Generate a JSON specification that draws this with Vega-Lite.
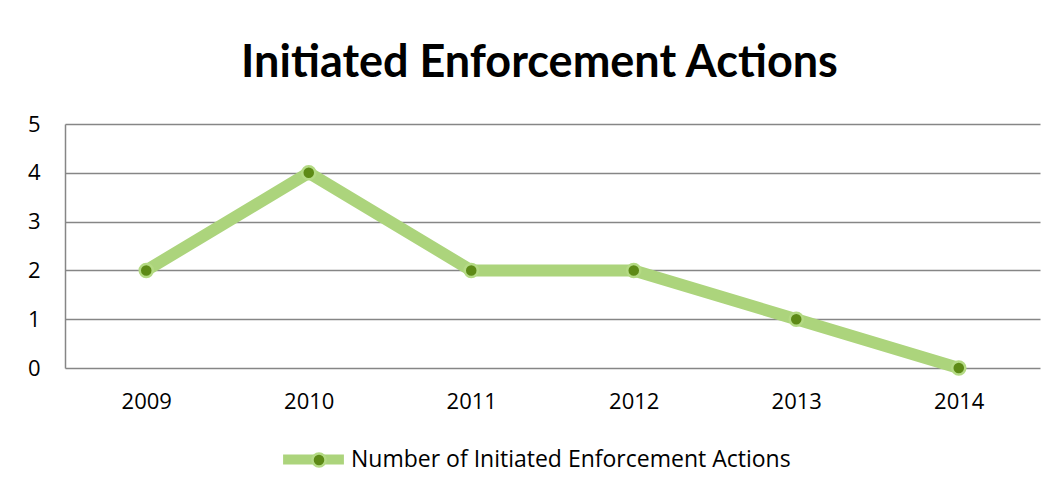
{
  "$schema": "https://vega.github.io/schema/vega-lite/v6.json",
  "autosize": {"type": "none"},
  "width": 975,
  "height": 244,
  "padding": {"left": 65, "top": 124, "right": 18, "bottom": 127},
  "background": "white",
  "title": {
    "text": "Initiated Enforcement Actions",
    "font": "Lato",
    "fontSize": 45,
    "fontWeight": "bold",
    "color": "#000000",
    "anchor": "middle",
    "dx": -13,
    "offset": 27
  },
  "data": {
    "values": [
      {"year": "2009", "value": 2, "series": "Number of Initiated Enforcement Actions"},
      {"year": "2010", "value": 4, "series": "Number of Initiated Enforcement Actions"},
      {"year": "2011", "value": 2, "series": "Number of Initiated Enforcement Actions"},
      {"year": "2012", "value": 2, "series": "Number of Initiated Enforcement Actions"},
      {"year": "2013", "value": 1, "series": "Number of Initiated Enforcement Actions"},
      {"year": "2014", "value": 0, "series": "Number of Initiated Enforcement Actions"}
    ]
  },
  "encoding": {
    "x": {
      "field": "year", "type": "ordinal",
      "scale": {"type": "point", "padding": 0.5},
      "axis": {"title": null, "labelAngle": 0, "ticks": false, "domain": false, "grid": false,
               "labelPadding": 23, "labelFont": "Open Sans", "labelFontSize": 22, "labelColor": "#000000"}
    },
    "y": {
      "field": "value", "type": "quantitative",
      "scale": {"domain": [0, 5]},
      "axis": {"title": null, "values": [0, 1, 2, 3, 4, 5], "ticks": false, "domain": true,
               "domainColor": "#868686", "domainWidth": 1.5,
               "gridColor": "#868686", "gridWidth": 1.5,
               "labelPadding": 25, "labelFont": "Open Sans", "labelFontSize": 22, "labelColor": "#000000"}
    }
  },
  "layer": [
    {
      "mark": {"type": "line", "strokeWidth": 12, "strokeJoin": "miter", "strokeCap": "butt"},
      "encoding": {
        "stroke": {
          "field": "series", "type": "nominal",
          "scale": {"range": ["#acd47c"]},
          "legend": {
            "title": null, "orient": "none", "legendX": 213, "legendY": 300,
            "symbolType": "stroke", "symbolSize": 3700, "symbolStrokeWidth": 10,
            "symbolStrokeColor": "#acd47c", "labelLimit": 700,
            "labelFont": "Open Sans", "labelFontSize": 23, "labelColor": "#000000", "labelOffset": 2
          }
        }
      }
    },
    {
      "mark": {"type": "point", "filled": true, "size": 170, "stroke": "#b4da84", "strokeWidth": 2.5, "opacity": 1},
      "encoding": {
        "fill": {
          "field": "series", "type": "nominal",
          "scale": {"range": ["#5d8a16"]},
          "legend": {
            "title": null, "orient": "none", "legendX": 244, "legendY": 326,
            "symbolType": "circle", "symbolSize": 170, "symbolFillColor": "#5d8a16",
            "symbolStrokeColor": "#b4da84", "symbolStrokeWidth": 2.5, "symbolOpacity": 1,
            "labelExpr": "''", "labelFontSize": 20
          }
        }
      }
    }
  ],
  "config": {
    "view": {"stroke": null}
  }
}
